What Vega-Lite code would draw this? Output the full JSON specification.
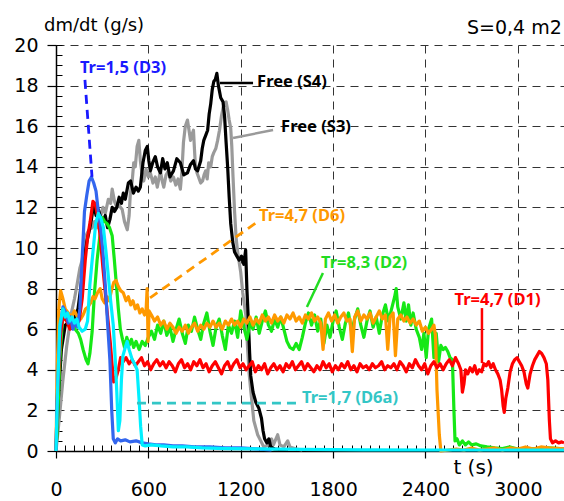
{
"$schema": "https://vega.github.io/schema/vega-lite/v6.json",
"width": 508, "height": 406,
"autosize": {"type": "none"},
"padding": {"left": 56, "top": 45, "right": 0, "bottom": 50},
"background": "white",
"config": {"view": {"stroke": null}, "line": {"strokeWidth": 3.2, "strokeJoin": "round"}},
"datasets": {
"S4": [{"t":0,"v":0},{"t":15,"v":2.5},{"t":35,"v":5.0},{"t":60,"v":6.2},{"t":90,"v":6.4},{"t":120,"v":6.5},{"t":143,"v":7.0},{"t":160,"v":8.0},{"t":176,"v":9.0},{"t":190,"v":9.8},{"t":200,"v":10.3},{"t":215,"v":10.8},{"t":230,"v":11.4},{"t":245,"v":12.2},{"t":260,"v":11.6},{"t":275,"v":11.9},{"t":290,"v":11.5},{"t":305,"v":11.3},{"t":320,"v":11.6},{"t":335,"v":11.0},{"t":350,"v":11.4},{"t":365,"v":12.0},{"t":380,"v":11.8},{"t":395,"v":12.0},{"t":410,"v":12.5},{"t":425,"v":12.2},{"t":437,"v":12.7},{"t":450,"v":12.4},{"t":470,"v":13.2},{"t":485,"v":13.3},{"t":503,"v":12.7},{"t":520,"v":13.0},{"t":535,"v":12.8},{"t":548,"v":13.0},{"t":565,"v":14.2},{"t":580,"v":14.8},{"t":593,"v":15.0},{"t":603,"v":14.3},{"t":613,"v":13.8},{"t":628,"v":14.2},{"t":645,"v":14.5},{"t":660,"v":14.0},{"t":678,"v":13.7},{"t":693,"v":14.4},{"t":708,"v":13.9},{"t":723,"v":14.2},{"t":740,"v":13.5},{"t":763,"v":13.8},{"t":785,"v":14.4},{"t":808,"v":14.2},{"t":830,"v":13.6},{"t":854,"v":13.7},{"t":873,"v":14.1},{"t":893,"v":14.3},{"t":906,"v":13.9},{"t":920,"v":13.8},{"t":940,"v":14.3},{"t":950,"v":14.9},{"t":960,"v":15.3},{"t":975,"v":15.6},{"t":985,"v":15.8},{"t":995,"v":16.6},{"t":1005,"v":17.1},{"t":1015,"v":17.8},{"t":1025,"v":18.2},{"t":1035,"v":18.3},{"t":1045,"v":18.6},{"t":1055,"v":18.0},{"t":1070,"v":17.4},{"t":1085,"v":17.2},{"t":1095,"v":16.5},{"t":1105,"v":15.2},{"t":1115,"v":14.0},{"t":1125,"v":12.5},{"t":1135,"v":11.2},{"t":1148,"v":10.3},{"t":1160,"v":9.8},{"t":1175,"v":9.6},{"t":1190,"v":9.4},{"t":1205,"v":9.6},{"t":1220,"v":9.2},{"t":1232,"v":9.9},{"t":1240,"v":8.0},{"t":1248,"v":6.7},{"t":1258,"v":4.8},{"t":1265,"v":3.7},{"t":1280,"v":2.9},{"t":1298,"v":2.4},{"t":1318,"v":2.1},{"t":1335,"v":1.6},{"t":1345,"v":1.0},{"t":1355,"v":0.6},{"t":1370,"v":0.4},{"t":1383,"v":0.6},{"t":1395,"v":0.2},{"t":1420,"v":0.1},{"t":1500,"v":0.05}],
"S3": [{"t":0,"v":0},{"t":20,"v":1.5},{"t":45,"v":3.5},{"t":70,"v":5.2},{"t":100,"v":6.8},{"t":120,"v":7.5},{"t":137,"v":8.2},{"t":155,"v":9.0},{"t":170,"v":9.4},{"t":185,"v":10.2},{"t":200,"v":10.7},{"t":215,"v":10.9},{"t":235,"v":11.0},{"t":250,"v":11.3},{"t":270,"v":11.0},{"t":287,"v":11.5},{"t":305,"v":12.0},{"t":320,"v":11.7},{"t":340,"v":12.4},{"t":355,"v":12.2},{"t":365,"v":12.9},{"t":380,"v":12.3},{"t":395,"v":12.0},{"t":410,"v":12.1},{"t":430,"v":11.9},{"t":445,"v":11.3},{"t":463,"v":10.9},{"t":475,"v":11.6},{"t":483,"v":12.7},{"t":495,"v":13.3},{"t":505,"v":14.2},{"t":515,"v":14.0},{"t":527,"v":15.0},{"t":538,"v":15.3},{"t":548,"v":14.3},{"t":560,"v":13.6},{"t":570,"v":13.3},{"t":585,"v":13.9},{"t":600,"v":13.5},{"t":613,"v":13.7},{"t":630,"v":13.2},{"t":645,"v":13.5},{"t":658,"v":13.0},{"t":668,"v":13.4},{"t":678,"v":13.8},{"t":690,"v":13.3},{"t":700,"v":13.0},{"t":715,"v":13.6},{"t":730,"v":13.8},{"t":745,"v":13.3},{"t":763,"v":13.5},{"t":778,"v":13.1},{"t":793,"v":13.4},{"t":808,"v":12.9},{"t":818,"v":13.8},{"t":828,"v":15.2},{"t":840,"v":16.0},{"t":854,"v":16.3},{"t":864,"v":15.8},{"t":874,"v":15.3},{"t":884,"v":15.6},{"t":893,"v":15.8},{"t":900,"v":14.8},{"t":906,"v":14.0},{"t":916,"v":13.7},{"t":926,"v":13.5},{"t":940,"v":13.2},{"t":952,"v":13.3},{"t":962,"v":13.6},{"t":972,"v":13.8},{"t":982,"v":13.4},{"t":992,"v":14.2},{"t":1005,"v":14.0},{"t":1015,"v":14.5},{"t":1025,"v":14.7},{"t":1038,"v":14.9},{"t":1050,"v":15.3},{"t":1062,"v":15.8},{"t":1075,"v":16.5},{"t":1085,"v":16.9},{"t":1095,"v":17.1},{"t":1105,"v":17.2},{"t":1115,"v":16.8},{"t":1125,"v":16.3},{"t":1135,"v":15.9},{"t":1142,"v":15.0},{"t":1150,"v":13.5},{"t":1160,"v":11.8},{"t":1170,"v":10.5},{"t":1180,"v":9.8},{"t":1190,"v":9.3},{"t":1200,"v":8.8},{"t":1213,"v":7.8},{"t":1233,"v":6.7},{"t":1245,"v":5.0},{"t":1255,"v":3.8},{"t":1265,"v":3.0},{"t":1285,"v":1.5},{"t":1310,"v":0.8},{"t":1330,"v":0.5},{"t":1350,"v":0.2},{"t":1380,"v":0.3},{"t":1400,"v":0.6},{"t":1412,"v":0.3},{"t":1440,"v":0.8},{"t":1455,"v":0.3},{"t":1480,"v":0.2},{"t":1505,"v":0.5},{"t":1520,"v":0.2},{"t":1560,"v":0.1},{"t":1600,"v":0.05}],
"D3": [{"t":0,"v":0},{"t":10,"v":3.0},{"t":25,"v":6.0},{"t":45,"v":7.1},{"t":65,"v":6.8},{"t":80,"v":6.3},{"t":95,"v":6.6},{"t":110,"v":6.0},{"t":125,"v":6.4},{"t":140,"v":6.1},{"t":155,"v":7.0},{"t":170,"v":9.5},{"t":185,"v":11.8},{"t":200,"v":12.6},{"t":215,"v":13.3},{"t":230,"v":13.5},{"t":245,"v":13.2},{"t":260,"v":12.8},{"t":275,"v":11.8},{"t":290,"v":11.0},{"t":305,"v":9.8},{"t":320,"v":8.2},{"t":335,"v":6.3},{"t":350,"v":4.5},{"t":362,"v":2.0},{"t":372,"v":0.6},{"t":385,"v":0.4},{"t":400,"v":0.6},{"t":420,"v":0.5},{"t":450,"v":0.55},{"t":480,"v":0.45},{"t":520,"v":0.5},{"t":560,"v":0.4},{"t":600,"v":0.35},{"t":650,"v":0.3},{"t":700,"v":0.3},{"t":760,"v":0.25},{"t":820,"v":0.25},{"t":900,"v":0.2},{"t":1000,"v":0.2},{"t":1100,"v":0.15},{"t":1200,"v":0.15},{"t":1300,"v":0.1},{"t":1400,"v":0.05}],
"D6a": [{"t":0,"v":0},{"t":10,"v":3.0},{"t":25,"v":6.2},{"t":45,"v":7.0},{"t":60,"v":6.6},{"t":75,"v":6.8},{"t":90,"v":6.4},{"t":105,"v":6.6},{"t":120,"v":6.3},{"t":135,"v":6.5},{"t":150,"v":6.1},{"t":170,"v":5.9},{"t":190,"v":6.0},{"t":205,"v":6.4},{"t":220,"v":8.2},{"t":240,"v":9.8},{"t":258,"v":11.2},{"t":275,"v":11.7},{"t":290,"v":11.5},{"t":308,"v":11.0},{"t":325,"v":9.8},{"t":340,"v":8.6},{"t":355,"v":7.4},{"t":372,"v":6.2},{"t":385,"v":4.5},{"t":395,"v":2.9},{"t":405,"v":1.0},{"t":415,"v":1.5},{"t":425,"v":3.5},{"t":435,"v":4.7},{"t":450,"v":5.1},{"t":462,"v":5.4},{"t":475,"v":5.0},{"t":495,"v":4.5},{"t":510,"v":4.3},{"t":527,"v":4.0},{"t":540,"v":2.5},{"t":550,"v":1.2},{"t":560,"v":0.3},{"t":580,"v":0.25},{"t":620,"v":0.3},{"t":680,"v":0.25},{"t":760,"v":0.2},{"t":850,"v":0.2},{"t":950,"v":0.15},{"t":1100,"v":0.12},{"t":1300,"v":0.1},{"t":1600,"v":0.08},{"t":2000,"v":0.06},{"t":2500,"v":0.05},{"t":3000,"v":0.05},{"t":3300,"v":0.05}],
"D1": [{"t":0,"v":0},{"t":8,"v":2.5},{"t":18,"v":4.0},{"t":30,"v":5.8},{"t":45,"v":6.6},{"t":70,"v":6.4},{"t":90,"v":6.0},{"t":110,"v":6.5},{"t":130,"v":6.2},{"t":150,"v":6.4},{"t":170,"v":7.5},{"t":190,"v":9.4},{"t":205,"v":10.5},{"t":222,"v":11.3},{"t":240,"v":12.3},{"t":254,"v":12.2},{"t":270,"v":11.6},{"t":287,"v":10.6},{"t":305,"v":9.0},{"t":320,"v":7.8},{"t":337,"v":6.5},{"t":352,"v":5.4},{"t":365,"v":4.2},{"t":375,"v":3.4},{"t":390,"v":3.6},{"t":405,"v":4.0},{"t":420,"v":4.6},{"t":437,"v":4.4},{"t":455,"v":4.6},{"t":475,"v":4.3},{"t":495,"v":4.5},{"t":515,"v":4.2},{"t":535,"v":4.4},{"t":555,"v":4.6},{"t":575,"v":4.2},{"t":595,"v":4.4},{"t":615,"v":4.0},{"t":635,"v":4.3},{"t":655,"v":4.5},{"t":675,"v":4.2},{"t":695,"v":4.4},{"t":715,"v":4.1},{"t":735,"v":4.4},{"t":755,"v":4.2},{"t":775,"v":3.9},{"t":795,"v":4.3},{"t":815,"v":4.5},{"t":835,"v":4.1},{"t":855,"v":4.3},{"t":875,"v":4.0},{"t":895,"v":4.4},{"t":915,"v":4.2},{"t":935,"v":4.5},{"t":955,"v":4.1},{"t":975,"v":4.3},{"t":995,"v":3.9},{"t":1015,"v":4.2},{"t":1035,"v":4.4},{"t":1055,"v":4.1},{"t":1075,"v":3.8},{"t":1095,"v":4.2},{"t":1115,"v":4.4},{"t":1135,"v":4.0},{"t":1155,"v":4.3},{"t":1175,"v":4.5},{"t":1195,"v":4.1},{"t":1215,"v":4.3},{"t":1235,"v":4.0},{"t":1255,"v":4.2},{"t":1275,"v":4.4},{"t":1295,"v":3.9},{"t":1315,"v":4.2},{"t":1335,"v":4.0},{"t":1355,"v":4.3},{"t":1375,"v":3.8},{"t":1395,"v":4.1},{"t":1415,"v":4.3},{"t":1435,"v":4.0},{"t":1455,"v":4.2},{"t":1475,"v":3.9},{"t":1495,"v":4.3},{"t":1515,"v":4.1},{"t":1535,"v":4.4},{"t":1555,"v":4.0},{"t":1575,"v":4.2},{"t":1595,"v":4.4},{"t":1615,"v":4.0},{"t":1635,"v":4.3},{"t":1655,"v":4.1},{"t":1675,"v":3.9},{"t":1695,"v":4.2},{"t":1715,"v":4.0},{"t":1735,"v":4.4},{"t":1755,"v":4.1},{"t":1775,"v":4.3},{"t":1795,"v":3.9},{"t":1815,"v":4.2},{"t":1835,"v":4.0},{"t":1855,"v":4.3},{"t":1875,"v":4.1},{"t":1895,"v":4.4},{"t":1915,"v":4.0},{"t":1935,"v":4.2},{"t":1955,"v":3.9},{"t":1975,"v":4.3},{"t":1995,"v":4.1},{"t":2015,"v":4.2},{"t":2035,"v":4.0},{"t":2055,"v":4.3},{"t":2075,"v":4.1},{"t":2095,"v":4.2},{"t":2115,"v":4.4},{"t":2135,"v":4.0},{"t":2155,"v":4.2},{"t":2175,"v":4.1},{"t":2195,"v":4.3},{"t":2215,"v":4.0},{"t":2235,"v":4.4},{"t":2255,"v":4.2},{"t":2275,"v":3.9},{"t":2295,"v":4.3},{"t":2315,"v":4.1},{"t":2335,"v":4.5},{"t":2355,"v":4.2},{"t":2375,"v":4.0},{"t":2395,"v":4.3},{"t":2415,"v":3.8},{"t":2435,"v":4.2},{"t":2455,"v":4.4},{"t":2475,"v":4.1},{"t":2495,"v":4.3},{"t":2515,"v":4.0},{"t":2535,"v":4.3},{"t":2555,"v":4.5},{"t":2575,"v":4.2},{"t":2595,"v":4.6},{"t":2615,"v":4.3},{"t":2630,"v":4.0},{"t":2640,"v":2.9},{"t":2650,"v":3.3},{"t":2660,"v":4.0},{"t":2675,"v":3.8},{"t":2690,"v":4.1},{"t":2705,"v":3.9},{"t":2720,"v":4.2},{"t":2735,"v":3.8},{"t":2750,"v":4.0},{"t":2765,"v":3.9},{"t":2780,"v":4.3},{"t":2795,"v":4.2},{"t":2810,"v":4.4},{"t":2825,"v":4.1},{"t":2840,"v":4.3},{"t":2855,"v":4.0},{"t":2870,"v":3.8},{"t":2885,"v":3.5},{"t":2895,"v":3.0},{"t":2905,"v":2.2},{"t":2912,"v":1.9},{"t":2922,"v":2.6},{"t":2935,"v":3.1},{"t":2950,"v":3.9},{"t":2965,"v":4.3},{"t":2980,"v":4.5},{"t":2995,"v":4.6},{"t":3010,"v":4.4},{"t":3025,"v":4.2},{"t":3040,"v":3.9},{"t":3055,"v":3.3},{"t":3065,"v":3.1},{"t":3080,"v":3.8},{"t":3095,"v":4.2},{"t":3110,"v":4.5},{"t":3125,"v":4.7},{"t":3140,"v":4.9},{"t":3155,"v":4.8},{"t":3170,"v":4.6},{"t":3185,"v":4.3},{"t":3195,"v":3.5},{"t":3205,"v":1.5},{"t":3212,"v":0.6},{"t":3225,"v":0.4},{"t":3245,"v":0.5},{"t":3265,"v":0.4},{"t":3285,"v":0.45},{"t":3300,"v":0.4}],
"D2": [{"t":0,"v":0},{"t":10,"v":1.5},{"t":25,"v":4.5},{"t":45,"v":6.8},{"t":65,"v":6.6},{"t":85,"v":6.2},{"t":105,"v":6.5},{"t":125,"v":6.0},{"t":145,"v":5.8},{"t":160,"v":5.5},{"t":176,"v":5.0},{"t":195,"v":4.5},{"t":208,"v":4.3},{"t":220,"v":4.8},{"t":235,"v":5.9},{"t":250,"v":7.8},{"t":267,"v":9.4},{"t":285,"v":10.6},{"t":300,"v":11.5},{"t":316,"v":11.3},{"t":332,"v":11.2},{"t":348,"v":11.0},{"t":365,"v":10.6},{"t":378,"v":9.5},{"t":390,"v":8.4},{"t":405,"v":7.0},{"t":418,"v":6.0},{"t":432,"v":5.5},{"t":445,"v":5.1},{"t":460,"v":5.6},{"t":475,"v":5.2},{"t":490,"v":5.5},{"t":505,"v":5.1},{"t":520,"v":5.4},{"t":540,"v":5.0},{"t":560,"v":5.4},{"t":580,"v":5.2},{"t":600,"v":5.6},{"t":620,"v":5.9},{"t":640,"v":5.5},{"t":660,"v":6.2},{"t":680,"v":5.8},{"t":700,"v":6.4},{"t":720,"v":5.7},{"t":740,"v":6.1},{"t":760,"v":5.4},{"t":780,"v":6.0},{"t":800,"v":6.5},{"t":820,"v":5.8},{"t":840,"v":5.3},{"t":860,"v":6.2},{"t":880,"v":5.9},{"t":900,"v":6.6},{"t":920,"v":6.0},{"t":940,"v":5.5},{"t":960,"v":6.3},{"t":980,"v":6.8},{"t":1000,"v":5.9},{"t":1020,"v":5.2},{"t":1040,"v":6.1},{"t":1060,"v":6.5},{"t":1080,"v":5.7},{"t":1100,"v":5.0},{"t":1120,"v":6.2},{"t":1140,"v":5.8},{"t":1160,"v":6.4},{"t":1180,"v":5.6},{"t":1200,"v":6.9},{"t":1220,"v":6.1},{"t":1240,"v":5.5},{"t":1260,"v":6.3},{"t":1280,"v":6.0},{"t":1300,"v":6.6},{"t":1320,"v":5.8},{"t":1340,"v":6.4},{"t":1360,"v":6.9},{"t":1380,"v":6.2},{"t":1400,"v":5.9},{"t":1420,"v":6.5},{"t":1440,"v":6.1},{"t":1460,"v":6.6},{"t":1480,"v":6.0},{"t":1500,"v":5.4},{"t":1520,"v":5.1},{"t":1540,"v":5.0},{"t":1560,"v":5.3},{"t":1580,"v":5.0},{"t":1600,"v":5.6},{"t":1620,"v":6.3},{"t":1640,"v":6.8},{"t":1660,"v":6.2},{"t":1680,"v":6.7},{"t":1700,"v":5.9},{"t":1720,"v":6.5},{"t":1740,"v":5.3},{"t":1760,"v":6.2},{"t":1780,"v":5.6},{"t":1800,"v":6.4},{"t":1820,"v":6.9},{"t":1840,"v":6.1},{"t":1860,"v":5.5},{"t":1880,"v":6.3},{"t":1900,"v":6.8},{"t":1920,"v":5.9},{"t":1940,"v":6.5},{"t":1960,"v":7.0},{"t":1980,"v":6.2},{"t":2000,"v":5.6},{"t":2020,"v":6.4},{"t":2040,"v":6.9},{"t":2060,"v":6.1},{"t":2080,"v":6.6},{"t":2100,"v":5.8},{"t":2120,"v":6.7},{"t":2140,"v":7.2},{"t":2160,"v":6.4},{"t":2180,"v":7.0},{"t":2200,"v":7.6},{"t":2210,"v":8.0},{"t":2220,"v":7.1},{"t":2240,"v":6.5},{"t":2260,"v":7.3},{"t":2275,"v":6.4},{"t":2290,"v":7.2},{"t":2305,"v":6.2},{"t":2320,"v":6.8},{"t":2340,"v":6.0},{"t":2360,"v":5.6},{"t":2375,"v":5.0},{"t":2390,"v":5.8},{"t":2405,"v":4.6},{"t":2420,"v":6.0},{"t":2440,"v":6.5},{"t":2455,"v":4.6},{"t":2470,"v":5.8},{"t":2485,"v":4.4},{"t":2500,"v":5.2},{"t":2515,"v":5.0},{"t":2530,"v":5.1},{"t":2545,"v":4.9},{"t":2560,"v":4.6},{"t":2575,"v":4.5},{"t":2585,"v":2.0},{"t":2592,"v":0.5},{"t":2605,"v":0.6},{"t":2620,"v":0.3},{"t":2640,"v":0.5},{"t":2660,"v":0.3},{"t":2680,"v":0.45},{"t":2700,"v":0.3},{"t":2730,"v":0.35},{"t":2760,"v":0.25},{"t":2800,"v":0.2},{"t":2850,"v":0.15},{"t":2900,"v":0.12},{"t":2950,"v":0.2},{"t":3000,"v":0.1},{"t":3100,"v":0.1},{"t":3200,"v":0.15},{"t":3300,"v":0.1}],
"D6": [{"t":0,"v":0},{"t":8,"v":4.0},{"t":18,"v":7.0},{"t":30,"v":7.9},{"t":45,"v":7.5},{"t":60,"v":7.0},{"t":80,"v":6.8},{"t":100,"v":6.6},{"t":120,"v":6.9},{"t":140,"v":6.6},{"t":160,"v":6.5},{"t":176,"v":6.7},{"t":192,"v":7.0},{"t":208,"v":7.1},{"t":225,"v":7.3},{"t":240,"v":7.6},{"t":254,"v":7.5},{"t":270,"v":7.8},{"t":287,"v":8.0},{"t":300,"v":7.5},{"t":315,"v":7.3},{"t":330,"v":7.6},{"t":345,"v":7.4},{"t":360,"v":7.9},{"t":375,"v":8.3},{"t":390,"v":8.4},{"t":405,"v":8.1},{"t":420,"v":7.9},{"t":437,"v":7.8},{"t":455,"v":7.4},{"t":470,"v":7.6},{"t":485,"v":7.2},{"t":500,"v":7.4},{"t":515,"v":7.0},{"t":530,"v":7.2},{"t":545,"v":6.8},{"t":560,"v":7.0},{"t":575,"v":6.7},{"t":585,"v":6.9},{"t":592,"v":8.0},{"t":598,"v":5.4},{"t":605,"v":6.9},{"t":620,"v":6.7},{"t":640,"v":6.4},{"t":660,"v":6.6},{"t":680,"v":6.2},{"t":700,"v":6.4},{"t":720,"v":6.0},{"t":740,"v":6.3},{"t":760,"v":6.1},{"t":780,"v":5.8},{"t":800,"v":6.1},{"t":820,"v":5.9},{"t":840,"v":6.2},{"t":860,"v":5.8},{"t":880,"v":6.1},{"t":900,"v":6.3},{"t":920,"v":5.9},{"t":940,"v":6.2},{"t":960,"v":6.0},{"t":980,"v":6.3},{"t":1000,"v":6.1},{"t":1020,"v":6.4},{"t":1040,"v":6.1},{"t":1060,"v":6.3},{"t":1080,"v":6.0},{"t":1100,"v":6.4},{"t":1120,"v":6.2},{"t":1140,"v":6.5},{"t":1160,"v":6.2},{"t":1180,"v":6.4},{"t":1200,"v":6.1},{"t":1220,"v":6.5},{"t":1240,"v":6.3},{"t":1260,"v":6.6},{"t":1280,"v":6.2},{"t":1300,"v":6.5},{"t":1320,"v":6.3},{"t":1340,"v":6.7},{"t":1360,"v":6.4},{"t":1380,"v":6.6},{"t":1400,"v":6.3},{"t":1420,"v":6.7},{"t":1440,"v":6.4},{"t":1460,"v":6.6},{"t":1480,"v":6.3},{"t":1500,"v":6.7},{"t":1520,"v":6.5},{"t":1540,"v":6.8},{"t":1560,"v":6.4},{"t":1580,"v":6.6},{"t":1600,"v":6.3},{"t":1620,"v":6.7},{"t":1640,"v":6.5},{"t":1660,"v":6.8},{"t":1680,"v":6.4},{"t":1700,"v":6.6},{"t":1720,"v":6.3},{"t":1735,"v":5.0},{"t":1750,"v":6.5},{"t":1770,"v":6.8},{"t":1790,"v":6.4},{"t":1810,"v":6.7},{"t":1830,"v":6.3},{"t":1850,"v":6.6},{"t":1870,"v":6.8},{"t":1890,"v":6.4},{"t":1910,"v":6.5},{"t":1925,"v":4.9},{"t":1940,"v":6.6},{"t":1960,"v":6.9},{"t":1980,"v":6.4},{"t":2000,"v":6.7},{"t":2020,"v":6.5},{"t":2040,"v":6.8},{"t":2060,"v":6.3},{"t":2080,"v":6.6},{"t":2100,"v":6.9},{"t":2120,"v":6.5},{"t":2140,"v":6.7},{"t":2155,"v":5.0},{"t":2170,"v":6.6},{"t":2190,"v":6.8},{"t":2205,"v":4.7},{"t":2220,"v":6.5},{"t":2240,"v":6.7},{"t":2260,"v":6.4},{"t":2280,"v":6.6},{"t":2300,"v":6.3},{"t":2320,"v":6.5},{"t":2340,"v":6.2},{"t":2360,"v":6.4},{"t":2380,"v":5.9},{"t":2400,"v":6.1},{"t":2420,"v":5.8},{"t":2440,"v":6.0},{"t":2455,"v":6.2},{"t":2465,"v":5.7},{"t":2475,"v":3.0},{"t":2490,"v":0.8},{"t":2500,"v":0.0},{"t":2550,"v":0.05},{"t":2600,"v":0.1},{"t":2650,"v":0.05},{"t":2700,"v":0.15},{"t":2750,"v":0.05},{"t":2800,"v":0.1},{"t":2850,"v":0.15},{"t":2900,"v":0.05},{"t":2950,"v":0.15},{"t":3000,"v":0.1},{"t":3050,"v":0.2},{"t":3100,"v":0.1},{"t":3150,"v":0.2},{"t":3200,"v":0.15},{"t":3300,"v":0.1}],
"leadDash": [{"t":188,"v":18.28,"t2":234,"v2":13.5,"c":"D3"},{"t":611,"v":7.54,"t2":1325,"v2":11.38,"c":"D6"},{"t":526,"v":2.36,"t2":1566,"v2":2.36,"c":"D6a"}],
"leadSolid": [{"t":1065,"v":18.13,"t2":1280,"v2":18.13,"c":"Free"},{"t":1150,"v":15.42,"t2":1410,"v2":15.81,"c":"S3"},{"t":1734,"v":8.77,"t2":1630,"v2":7.09,"c":"D2"},{"t":2767,"v":7.04,"t2":2767,"v2":4.33,"c":"D1"}],
"labels": [{"t":435,"v":18.87,"label":"Tr=1,5 (D3)","c":"D3"},{"t":1533,"v":18.18,"label":"Free (S4)","c":"Free"},{"t":1689,"v":15.98,"label":"Free (S3)","c":"Free"},{"t":1598,"v":11.58,"label":"Tr=4,7 (D6)","c":"D6"},{"t":2001,"v":9.26,"label":"Tr=8,3 (D2)","c":"D2"},{"t":2868,"v":7.44,"label":"Tr=4,7 (D1)","c":"D1"},{"t":1910,"v":2.61,"label":"Tr=1,7 (D6a)","c":"D6a"}],
"corner": [{"t":2978,"v":20.86,"label":"S=0,4 m2"}],
"ytitle": [{"t":-78,"v":20.94,"label":"dm/dt (g/s)"}]
},
"layer": [
{"data": {"name": "S3"}, "mark": {"type": "line", "color": "#9a9a9a"},
 "encoding": {
  "x": {"field": "t", "type": "quantitative", "scale": {"domain": [0, 3300], "nice": false, "zero": false},
   "axis": {"values": [0, 600, 1200, 1800, 2400, 3000], "format": "d", "grid": true, "gridDash": [8, 6], "gridColor": "#333333", "gridWidth": 1,
    "domainColor": "#000000", "domainWidth": 1.5, "tickColor": "#000000", "tickWidth": 1.2, "tickSize": 7,
    "labelFont": "DejaVu Sans", "labelFontSize": 19, "labelColor": "#000000", "labelPadding": 22, "labelFlush": false,
    "title": "t (s)", "titleFont": "DejaVu Sans", "titleFontSize": 20, "titleFontWeight": "normal", "titleColor": "#000000",
    "titleX": 417, "titleY": 16, "titleAlign": "center", "titleBaseline": "middle"}},
  "y": {"field": "v", "type": "quantitative", "scale": {"domain": [0, 20], "nice": false},
   "axis": {"values": [0, 2, 4, 6, 8, 10, 12, 14, 16, 18, 20], "grid": true, "gridDash": [8, 6], "gridColor": "#333333", "gridWidth": 1,
    "domainColor": "#000000", "domainWidth": 1.5, "tickColor": "#000000", "tickWidth": 1.2, "tickSize": 9,
    "labelFont": "DejaVu Sans", "labelFontSize": 19, "labelColor": "#000000", "labelPadding": 9, "title": null}}
 }},
{"data": {"name": "corner"}, "mark": {"type": "point", "opacity": 0},
 "encoding": {
  "x": {"field": "t", "type": "quantitative", "scale": {"domain": [0, 3300], "nice": false, "zero": false},
   "axis": {"orient": "bottom", "offset": -6, "values": [0,60,120,180,240,300,360,420,480,540,600,660,720,780,840,900,960,1020,1080,1140,1200,1260,1320,1380,1440,1500,1560,1620,1680,1740,1800,1860,1920,1980,2040,2100,2160,2220,2280,2340,2400,2460,2520,2580,2640,2700,2760,2820,2880,2940,3000,3060,3120,3180,3240],
    "grid": false, "domain": false, "labels": false, "ticks": true, "tickSize": 6, "tickColor": "#000000", "tickWidth": 1, "title": null}},
  "y": {"field": "v", "type": "quantitative", "scale": {"domain": [0, 20], "nice": false},
   "axis": {"orient": "left", "offset": -6, "values": [0.5,1,1.5,2,2.5,3,3.5,4,4.5,5,5.5,6,6.5,7,7.5,8,8.5,9,9.5,10,10.5,11,11.5,12,12.5,13,13.5,14,14.5,15,15.5,16,16.5,17,17.5,18,18.5,19,19.5,20],
    "grid": false, "domain": false, "labels": false, "ticks": true, "tickSize": 6, "tickColor": "#000000", "tickWidth": 1, "title": null}}
 }},
{"data": {"name": "S4"}, "mark": {"type": "line", "color": "#000000"},
 "encoding": {"x": {"field": "t", "type": "quantitative", "axis": null}, "y": {"field": "v", "type": "quantitative", "axis": null}}},
{"data": {"name": "D2"}, "mark": {"type": "line", "color": "#16e816"},
 "encoding": {"x": {"field": "t", "type": "quantitative", "axis": null}, "y": {"field": "v", "type": "quantitative", "axis": null}}},
{"data": {"name": "D6"}, "mark": {"type": "line", "color": "#ff9900"},
 "encoding": {"x": {"field": "t", "type": "quantitative", "axis": null}, "y": {"field": "v", "type": "quantitative", "axis": null}}},
{"data": {"name": "D1"}, "mark": {"type": "line", "color": "#ff0000"},
 "encoding": {"x": {"field": "t", "type": "quantitative", "axis": null}, "y": {"field": "v", "type": "quantitative", "axis": null}}},
{"data": {"name": "D3"}, "mark": {"type": "line", "color": "#3366ee"},
 "encoding": {"x": {"field": "t", "type": "quantitative", "axis": null}, "y": {"field": "v", "type": "quantitative", "axis": null}}},
{"data": {"name": "D6a"}, "mark": {"type": "line", "color": "#00f0ff"},
 "encoding": {"x": {"field": "t", "type": "quantitative", "axis": null}, "y": {"field": "v", "type": "quantitative", "axis": null}}},
{"data": {"name": "leadDash"}, "mark": {"type": "rule", "strokeWidth": 2.8, "strokeDash": [9, 6]},
 "encoding": {"x": {"field": "t", "type": "quantitative", "axis": null}, "y": {"field": "v", "type": "quantitative", "axis": null},
  "x2": {"field": "t2"}, "y2": {"field": "v2"},
  "color": {"field": "c", "type": "nominal", "legend": null, "scale": {"domain": ["Free", "S3", "D3", "D6", "D2", "D1", "D6a"], "range": ["#000000", "#9a9a9a", "#1a1aff", "#ff9900", "#22dd22", "#ff0000", "#33c6c6"]}}}},
{"data": {"name": "leadSolid"}, "mark": {"type": "rule", "strokeWidth": 2.5},
 "encoding": {"x": {"field": "t", "type": "quantitative", "axis": null}, "y": {"field": "v", "type": "quantitative", "axis": null},
  "x2": {"field": "t2"}, "y2": {"field": "v2"},
  "color": {"field": "c", "type": "nominal", "legend": null}}},
{"data": {"name": "labels"}, "mark": {"type": "text", "font": "Noto Sans", "fontSize": 16.5, "fontWeight": "bold", "align": "center", "baseline": "middle"},
 "encoding": {"x": {"field": "t", "type": "quantitative", "axis": null}, "y": {"field": "v", "type": "quantitative", "axis": null},
  "text": {"field": "label"}, "color": {"field": "c", "type": "nominal", "legend": null}}},
{"data": {"name": "corner"}, "mark": {"type": "text", "font": "DejaVu Sans", "fontSize": 19, "color": "#000000", "align": "center", "baseline": "middle"},
 "encoding": {"x": {"field": "t", "type": "quantitative", "axis": null}, "y": {"field": "v", "type": "quantitative", "axis": null},
  "text": {"field": "label"}}},
{"data": {"name": "ytitle"}, "mark": {"type": "text", "font": "DejaVu Sans", "fontSize": 18, "color": "#000000", "align": "left", "baseline": "middle"},
 "encoding": {"x": {"field": "t", "type": "quantitative", "axis": null}, "y": {"field": "v", "type": "quantitative", "axis": null},
  "text": {"field": "label"}}}
],
"resolve": {"axis": {"x": "independent", "y": "independent"}}
}
